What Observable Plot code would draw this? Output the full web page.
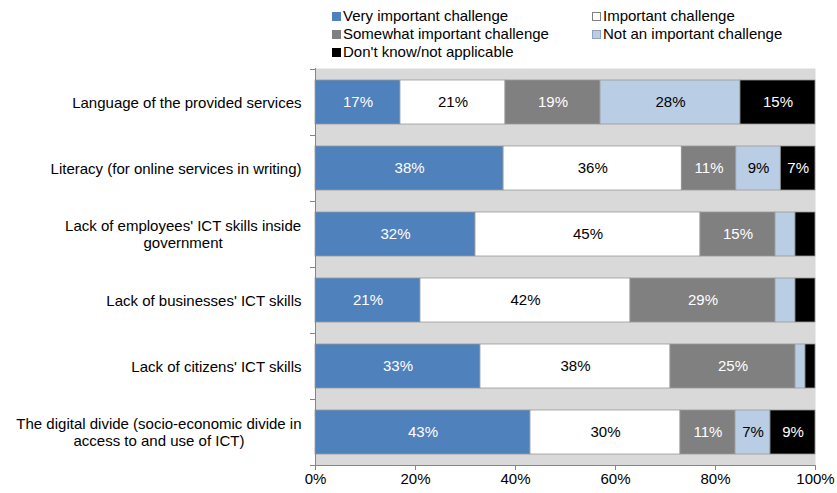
<!DOCTYPE html>
<html>
<head>
<meta charset="utf-8">
<script src="https://cdn.jsdelivr.net/npm/d3@7"></script>
<script src="https://cdn.jsdelivr.net/npm/@observablehq/plot@0.6"></script>
<style>
  body { margin: 0; background: #fff; }
  #wrap { position: relative; width: 837px; height: 493px; font-family: "Liberation Sans", Arial, sans-serif; }
  #legend { position: absolute; left: 0; top: 0; width: 837px; height: 62px; font-size: 15px; color: #000; }
  .li { position: absolute; white-space: nowrap; line-height: 18px; }
  .sw { display: inline-block; width: 9px; height: 9px; margin-right: 2px; vertical-align: 0px; box-sizing: border-box; }
  #chart { position: absolute; left: 0; top: 0; }
</style>
</head>
<body>
<div id="wrap">
  <div id="chart"></div>
  <div id="legend"></div>
</div>
<script>
const categories = [
  "Language of the provided services",
  "Literacy (for online services in writing)",
  "Lack of employees' ICT skills inside\ngovernment",
  "Lack of businesses' ICT skills",
  "Lack of citizens' ICT skills",
  "The digital divide (socio-economic divide in\naccess to and use of ICT)"
];
const seriesNames = [
  "Very important challenge",
  "Important challenge",
  "Somewhat important challenge",
  "Not an important challenge",
  "Don't know/not applicable"
];
const veryImportant = [17, 38, 32, 21, 33, 43];
const important     = [21, 36, 45, 42, 38, 30];
const somewhat      = [19, 11, 15, 29, 25, 11];
const notImportant  = [28,  9,  4,  4,  2,  7];
const dontKnow      = [15,  7,  4,  4,  2,  9];
const xTicks = [0, 0.2, 0.4, 0.6, 0.8, 1];

const colors = ["#4f81bd", "#ffffff", "#808080", "#b9cde5", "#000000"];
const labelColors = ["#ffffff", "#000000", "#ffffff", "#000000", "#ffffff"];
const seriesValues = [veryImportant, important, somewhat, notImportant, dontKnow];

const data = [];
categories.forEach((c, i) => {
  seriesNames.forEach((s, j) => {
    data.push({cat: c, series: s, value: seriesValues[j][i], si: j});
  });
});

// legend (HTML)
const legend = document.getElementById("legend");
const legPos = [[332, 7], [592, 7], [332, 25], [592, 25], [332, 43]];
seriesNames.forEach((s, j) => {
  const d = document.createElement("div");
  d.className = "li";
  d.style.left = legPos[j][0] + "px";
  d.style.top = legPos[j][1] + "px";
  const sw = document.createElement("span");
  sw.className = "sw";
  sw.style.background = colors[j];
  sw.style.border = "1px solid " + (j === 1 ? "#7f7f7f" : (j === 3 ? "#8ea4c0" : colors[j]));
  d.appendChild(sw);
  d.appendChild(document.createTextNode(s));
  legend.appendChild(d);
});

const stackOpts = {x: "value", y: "cat", z: "series", offset: "normalize"};

const chart = Plot.plot({
  width: 837,
  height: 493,
  marginTop: 68,
  marginBottom: 28,
  marginLeft: 315,
  marginRight: 22,
  style: {fontFamily: "'Liberation Sans', Arial, sans-serif", fontSize: "15px", color: "#000", background: "transparent"},
  x: {domain: [0, 1], axis: null, label: null},
  y: {domain: categories, padding: 0, axis: null, label: null},
  color: {domain: seriesNames, range: colors},
  marks: [
    Plot.frame({fill: "#d9d9d9", stroke: null}),
    Plot.barX(data, Plot.stackX({...stackOpts, fill: "series", stroke: "#9a9a9a", strokeWidth: 0.8, insetTop: 11, insetBottom: 11})),
    Plot.text(data, Plot.stackX({...stackOpts,
      text: d => d.value >= 5 ? d.value + "%" : "",
      fill: d => labelColors[d.si],
      fontSize: 15})),
    // y axis line and boundary ticks
    Plot.ruleX([0], {stroke: "#868686", strokeWidth: 1}),
    Plot.ruleY(categories, {y: d => d, x1: -0.01, x2: 0, dy: -33, stroke: "#868686"}),
    Plot.ruleY([categories[categories.length - 1]], {y: d => d, x1: -0.01, x2: 0, dy: 33, stroke: "#868686"}),
    Plot.axisY({tickSize: 0, tickPadding: 14, fontSize: 15, lineHeight: 1.13, tickFormat: d => d, label: null}),
    // x axis
    Plot.ruleY([categories[categories.length - 1]], {y: d => d, x1: 0, x2: 1, dy: 33, stroke: "#868686"}),
    Plot.axisX({ticks: xTicks, tickFormat: d => Math.round(d * 100) + "%", tickSize: 5, tickPadding: 3, stroke: "#868686", fontSize: 15, label: null})
  ]
});
document.getElementById("chart").appendChild(chart);

// center multi-line y labels as a block (right-aligned block)
chart.querySelectorAll('g[aria-label="y-axis tick label"] text').forEach(t => {
  const tspans = t.querySelectorAll("tspan");
  if (tspans.length > 1) {
    const w = t.getBBox().width;
    t.setAttribute("text-anchor", "middle");
    tspans.forEach(ts => ts.setAttribute("x", -w / 2));
  }
});
</script>
</body>
</html>
